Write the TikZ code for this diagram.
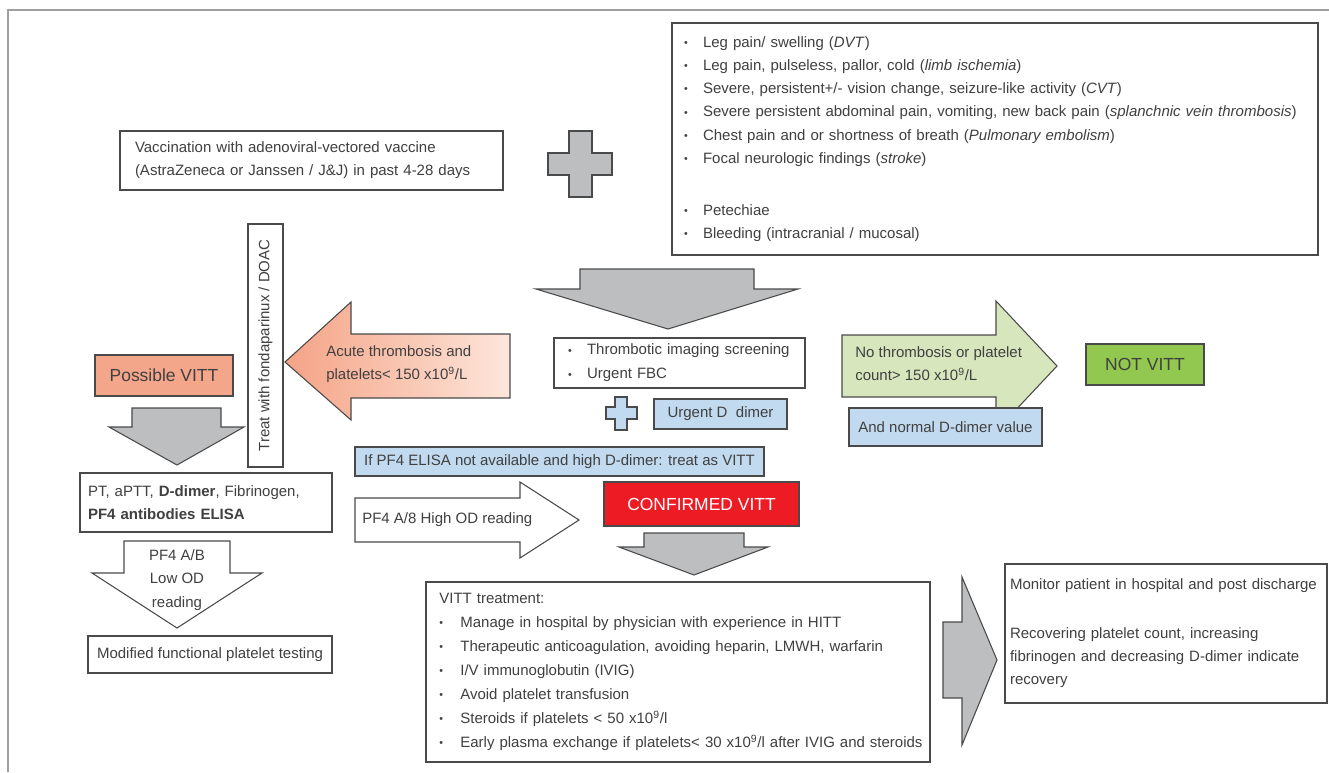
\documentclass[tikz,border=0pt]{standalone}
\usepackage{fontspec}
\setmainfont{Liberation Sans}
\definecolor{txt}{HTML}{404040}
\definecolor{bord}{HTML}{4A4A4A}
\definecolor{arrgray}{HTML}{BCBEC0}
\definecolor{salmon}{HTML}{F4A68B}
\definecolor{salmonD}{HTML}{F5A386}
\definecolor{salmonL}{HTML}{FDE6DB}
\definecolor{lblue}{HTML}{C2DAEF}
\definecolor{lgreen}{HTML}{D7E6BC}
\definecolor{dgreen}{HTML}{92C850}
\definecolor{cred}{HTML}{ED1C24}
\newcommand{\fs}{\fontsize{11.25}{17.4}\selectfont}
\newcommand{\bul}{\makebox[14.25pt][l]{\fontsize{8}{8}\selectfont\raisebox{0.6pt}{\textbullet}}}
\newcommand{\bulb}{\makebox[15.75pt][l]{\fontsize{8}{8}\selectfont\raisebox{0.6pt}{\textbullet}}}
\begin{document}
\begin{tikzpicture}[x=0.75pt,y=-0.75pt,
  every node/.style={text=txt, font=\fs},
  tbox/.style={draw=bord, line width=0.8pt, fill=white, inner ysep=0pt},
  blk/.style={draw=bord, line width=0.8pt, fill=arrgray, line join=miter},
  wblk/.style={draw=bord, line width=0.8pt, fill=white, line join=miter},
  freetxt/.style={inner sep=0pt},
  bigtxt/.style={font=\fontsize{13.1}{16}\selectfont},
  frame/.style={draw=gray!75, line width=1.1pt}]
\useasboundingbox (0,0) rectangle (1329,772);
\draw[frame] (8,772) -- (8,10) -- (1329,10);

% vaccination
\node[tbox, minimum width=287.25pt, minimum height=44.25pt, text width=264.75pt,
  inner xsep=11.25pt, align=left] (vacc) at (311.5,160.5)
  {Vaccination with adenoviral-vectored vaccine\\(AstraZeneca or Janssen / J\&J) in past 4-28 days};

% big plus
\draw[blk] (569,131) -- (592,131) -- (592,153) -- (612,153) -- (612,175) -- (592,175)
  -- (592,197) -- (569,197) -- (569,175) -- (548,175) -- (548,153) -- (569,153) -- cycle;

% symptoms
\node[tbox, minimum width=484.5pt, minimum height=174pt, text width=466.5pt,
  inner xsep=9pt, align=left] (symp) at (995,139)
  {\bul Leg pain/ swelling (\textit{DVT})\\
   \bul Leg pain, pulseless, pallor, cold (\textit{limb ischemia})\\
   \bul Severe, persistent+/- vision change, seizure-like activity (\textit{CVT})\\
   \bul Severe persistent abdominal pain, vomiting, new back pain (\textit{splanchnic vein thrombosis})\\
   \bul Chest pain and or shortness of breath (\textit{Pulmonary embolism})\\
   \bul Focal neurologic findings (\textit{stroke})\\[21.6pt]
   \bul Petechiae\\
   \bul Bleeding (intracranial / mucosal)};

% big down arrow
\draw[blk] (580,269) -- (754,269) -- (754,289) -- (798,289) -- (668,329) -- (536,289) -- (580,289) -- cycle;

% thrombotic screening
\node[tbox, minimum width=188.25pt, minimum height=37.5pt, text width=167.25pt,
  inner xsep=10.5pt, align=left, font=\fontsize{11.25}{18}\selectfont] (thromb) at (679.5,363)
  {\bul Thrombotic imaging screening\\\bul Urgent FBC};

% small blue plus
\draw[draw=bord, line width=0.8pt, fill=lblue] (615,397) -- (627,397) -- (627,407) -- (637,407) -- (637,419)
  -- (627,419) -- (627,430) -- (615,430) -- (615,419) -- (606,419) -- (606,407) -- (615,407) -- cycle;

\node[tbox, fill=lblue, minimum width=99.75pt, minimum height=22.5pt] (ddimer) at (720.5,414) {Urgent D\ \ dimer};

% acute thrombosis arrow
\draw[draw=bord, line width=0.8pt, left color=salmonD, right color=salmonL]
  (285,362) -- (351,302) -- (351,334) -- (510,334) -- (510,398) -- (351,398) -- (351,420) -- cycle;
\node[freetxt, anchor=west, align=left] (acutetxt) at (326,364)
  {Acute thrombosis and\\platelets< 150 x10\textsuperscript{9}/L};

% vertical treat box
\node[tbox, rotate=90, minimum width=182.25pt, minimum height=26.25pt, inner sep=0pt] (treat)
  at (265.5,345.5) {Treat with fondaparinux / DOAC};

% possible VITT
\node[tbox, fill=salmon, bigtxt, minimum width=103.5pt, minimum height=30.75pt] (possible)
  at (164,375.5) {Possible VITT};

\draw[blk] (132,408) -- (221,408) -- (221,427) -- (244,427) -- (177,465) -- (109,427) -- (132,427) -- cycle;

% PT box
\node[tbox, minimum width=189pt, minimum height=44.25pt, text width=177pt,
  inner xsep=6pt, align=left] (pt) at (206,502.5)
  {PT, aPTT, \textbf{D-dimer}, Fibrinogen,\\\textbf{PF4 antibodies ELISA}};

% white down arrow
\draw[wblk] (124,541) -- (230,541) -- (230,573) -- (262,573) -- (177,628) -- (92,573) -- (124,573) -- cycle;
\node[align=center, font=\fontsize{11.25}{17.6}\selectfont] (lowod) at (177,580) {PF4 A/B\\Low OD\\reading};

\node[tbox, minimum width=183pt, minimum height=27.75pt] (modif) at (210,654.5)
  {Modified functional platelet testing};

% blue bar
\node[tbox, fill=lblue, minimum width=306.75pt, minimum height=21.75pt] (ifpf4) at (559.5,461.5)
  {If PF4 ELISA not available and high D-dimer: treat as VITT};

% white right arrow
\draw[wblk] (355,498) -- (520,498) -- (520,482) -- (579,520) -- (520,558) -- (520,542) -- (355,542) -- cycle;
\node[freetxt, anchor=west] (pf4high) at (362,520) {PF4 A/8 High OD reading};

% confirmed
\node[tbox, fill=cred, bigtxt, text=white, minimum width=146.25pt, minimum height=33pt] (confirmed)
  at (701.5,504) {CONFIRMED VITT};

\draw[blk] (644,533) -- (744,533) -- (744,547) -- (768,547) -- (694,575) -- (619,547) -- (644,547) -- cycle;

% VITT treatment
\node[tbox, minimum width=378pt, minimum height=135pt, text width=358pt,
  inner xsep=10pt, align=left, font=\fontsize{11.25}{18}\selectfont] (vittbox) at (678,672)
  {VITT treatment:\\
   \bulb Manage in hospital by physician with experience in HITT\\
   \bulb Therapeutic anticoagulation, avoiding heparin, LMWH, warfarin\\
   \bulb I/V immunoglobutin (IVIG)\\
   \bulb Avoid platelet transfusion\\
   \bulb Steroids if platelets < 50 x10\textsuperscript{9}/l\\
   \mbox{\bulb Early plasma exchange if platelets< 30 x10\textsuperscript{9}/l after IVIG and steroids}};

\draw[blk] (943,622) -- (962,622) -- (962,577) -- (997,660) -- (962,745) -- (962,698) -- (943,698) -- cycle;

% monitor
\node[tbox, minimum width=241.5pt, minimum height=104.25pt, text width=234pt,
  inner xsep=3.75pt, align=left, font=\fontsize{11.25}{17.5}\selectfont] (monitor) at (1166,633.5)
  {Monitor patient in hospital and post discharge\\[18.6pt]
   Recovering platelet count, increasing\\
   fibrinogen and decreasing D-dimer indicate\\
   recovery};

% green arrow
\draw[draw=bord, line width=0.8pt, fill=lgreen, line join=miter]
  (842,335) -- (996,335) -- (996,301) -- (1057,366) -- (996,431) -- (996,397) -- (842,397) -- cycle;
\node[freetxt, anchor=west, align=left] (nothromb) at (855,364)
  {No thrombosis or platelet\\count> 150 x10\textsuperscript{9}/L};

\node[tbox, fill=lblue, minimum width=144.75pt, minimum height=28.5pt] (normal) at (945.5,427)
  {And normal D-dimer value};

\node[tbox, fill=dgreen, bigtxt, minimum width=88.5pt, minimum height=30.75pt] (notvitt)
  at (1145,364.5) {NOT VITT};
\end{tikzpicture}
\end{document}
